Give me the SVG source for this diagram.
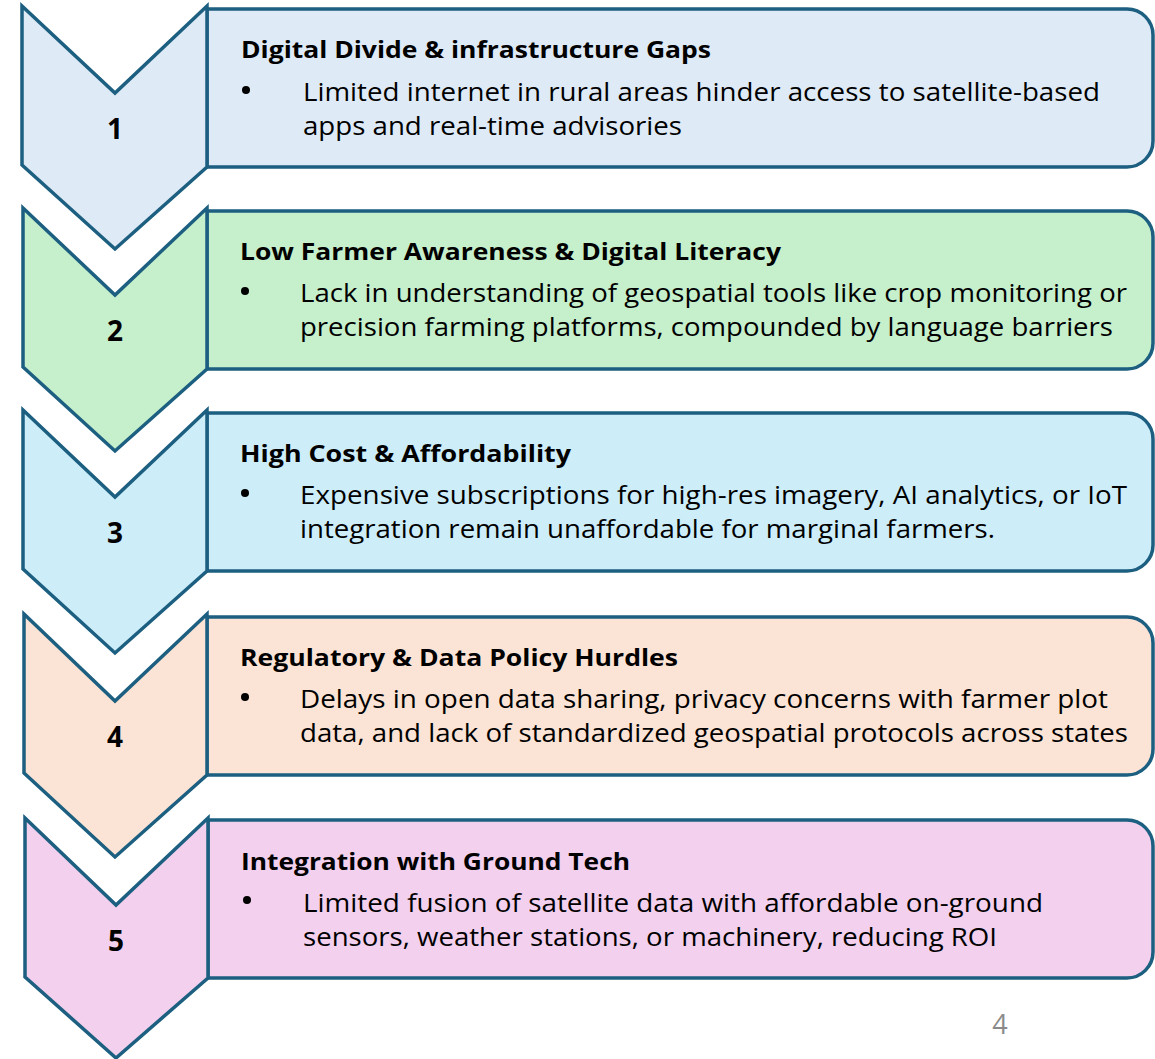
<svg xmlns="http://www.w3.org/2000/svg" width="1155" height="1059" viewBox="0 0 1155 1059">
<style>
.box{stroke:#1C5F80;stroke-width:3.5}
.chev{stroke:#1C5F80;stroke-width:3.5;stroke-linejoin:miter}
.dot{fill:#000}
.t{font-family:"Open Sans","Liberation Sans",sans-serif;font-weight:bold;font-size:24px;fill:#000}
.b{font-family:"Open Sans","Liberation Sans",sans-serif;font-size:26px;fill:#000}
.n{font-family:"Open Sans","Liberation Sans",sans-serif;font-weight:bold;font-size:28px;fill:#000;text-anchor:middle}
.pg{font-family:"Open Sans","Liberation Sans",sans-serif;font-size:27px;fill:#8A8A8A;text-anchor:middle}
</style>
<g id="connectors"></g>

<g id="step1">
<path class="box" d="M207,9 H1127 A26,26 0 0 1 1153,35 V141 A26,26 0 0 1 1127,167 H207 Z" fill="#DEEAF6"/>
<polygon class="chev" points="22,6 115,93 207,6 207,167 115,249 22,165" fill="#DEEAF6"/>
<text class="n" x="115" y="139">1</text>
<text class="t" x="241" y="58" textLength="470" lengthAdjust="spacingAndGlyphs">Digital Divide &amp; infrastructure Gaps</text>
<circle class="dot" cx="246" cy="90" r="4"/>
<text class="b" x="303" y="101" textLength="797" lengthAdjust="spacingAndGlyphs">Limited internet in rural areas hinder access to satellite-based</text>
<text class="b" x="303" y="135" textLength="379" lengthAdjust="spacingAndGlyphs">apps and real-time advisories</text>
</g>

<g id="step2">
<path class="box" d="M207,211 H1127 A26,26 0 0 1 1153,237 V343 A26,26 0 0 1 1127,369 H207 Z" fill="#C6EFCC"/>
<polygon class="chev" points="23,208 115,295 207,208 207,369 115,451 23,367" fill="#C6EFCC"/>
<text class="n" x="115" y="341">2</text>
<text class="t" x="240" y="260" textLength="541" lengthAdjust="spacingAndGlyphs">Low Farmer Awareness &amp; Digital Literacy</text>
<circle class="dot" cx="245" cy="291" r="4"/>
<text class="b" x="300" y="302" textLength="827" lengthAdjust="spacingAndGlyphs">Lack in understanding of geospatial tools like crop monitoring or</text>
<text class="b" x="300" y="336" textLength="813" lengthAdjust="spacingAndGlyphs">precision farming platforms, compounded by language barriers</text>
</g>

<g id="step3">
<path class="box" d="M207,413 H1127 A26,26 0 0 1 1153,439 V545 A26,26 0 0 1 1127,571 H207 Z" fill="#CDEDF9"/>
<polygon class="chev" points="23,410 115,497 207,410 207,571 115,653 23,569" fill="#CDEDF9"/>
<text class="n" x="115" y="543">3</text>
<text class="t" x="240" y="462" textLength="331" lengthAdjust="spacingAndGlyphs">High Cost &amp; Affordability</text>
<circle class="dot" cx="245" cy="493" r="4"/>
<text class="b" x="300" y="504" textLength="827" lengthAdjust="spacingAndGlyphs">Expensive subscriptions for high-res imagery, AI analytics, or IoT</text>
<text class="b" x="300" y="538" textLength="695" lengthAdjust="spacingAndGlyphs">integration remain unaffordable for marginal farmers.</text>
</g>

<g id="step4">
<path class="box" d="M207,617 H1127 A26,26 0 0 1 1153,643 V749 A26,26 0 0 1 1127,775 H207 Z" fill="#FBE4D6"/>
<polygon class="chev" points="24,614 115,701 207,614 207,775 115,857 24,773" fill="#FBE4D6"/>
<text class="n" x="115" y="747">4</text>
<text class="t" x="240" y="666" textLength="438" lengthAdjust="spacingAndGlyphs">Regulatory &amp; Data Policy Hurdles</text>
<circle class="dot" cx="245" cy="697" r="4"/>
<text class="b" x="300" y="708" textLength="808" lengthAdjust="spacingAndGlyphs">Delays in open data sharing, privacy concerns with farmer plot</text>
<text class="b" x="300" y="742" textLength="828" lengthAdjust="spacingAndGlyphs">data, and lack of standardized geospatial protocols across states</text>
</g>

<g id="step5">
<path class="box" d="M208,820 H1127 A26,26 0 0 1 1153,846 V952 A26,26 0 0 1 1127,978 H208 Z" fill="#F2D0EE"/>
<polygon class="chev" points="25,818 116,905 208,818 208,978 116,1058 25,977" fill="#F2D0EE"/>
<text class="n" x="116" y="951">5</text>
<text class="t" x="241" y="870" textLength="389" lengthAdjust="spacingAndGlyphs">Integration with Ground Tech</text>
<circle class="dot" cx="247" cy="900" r="4"/>
<text class="b" x="303" y="912" textLength="740" lengthAdjust="spacingAndGlyphs">Limited fusion of satellite data with affordable on-ground</text>
<text class="b" x="303" y="946" textLength="694" lengthAdjust="spacingAndGlyphs">sensors, weather stations, or machinery, reducing ROI</text>
</g>

<text class="pg" x="1000" y="1034">4</text>
</svg>
